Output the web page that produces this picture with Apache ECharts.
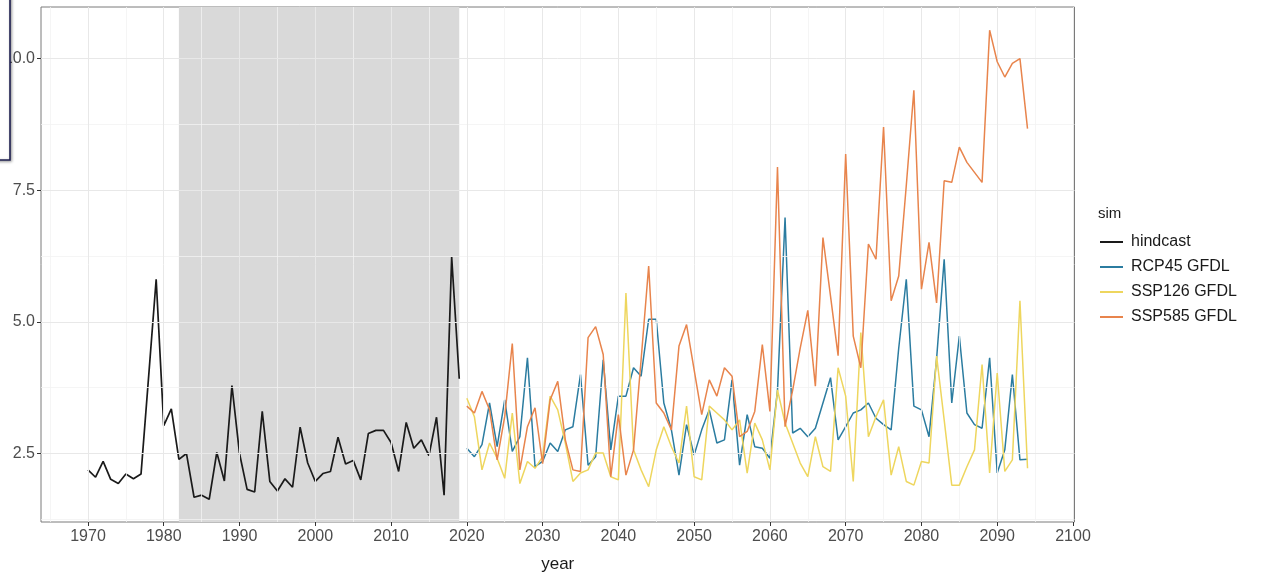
<!DOCTYPE html>
<html><head><meta charset="utf-8">
<script src="https://cdn.jsdelivr.net/npm/echarts@6/dist/echarts.min.js"></script>
<style>html,body{margin:0;padding:0;background:#fff}#c{width:1268px;height:574px}</style>
</head><body><div id="c"></div>
<script>
// ---- data ----
const hindcastStart = 1970;
const hindcast = [2.19,2.05,2.35,2.01,1.93,2.11,2.02,2.11,3.95,5.81,
  3.03,3.35,2.39,2.50,1.67,1.71,1.63,2.52,1.98,3.79,
  2.50,1.82,1.77,3.30,1.97,1.79,2.02,1.86,3.00,2.32,
  1.97,2.12,2.16,2.81,2.30,2.37,2.00,2.88,2.94,2.94,
  2.71,2.16,3.09,2.60,2.76,2.46,3.19,1.71,6.23,3.92];
const futureStart = 2020;
const rcp45 = [2.60,2.44,2.67,3.46,2.63,3.52,2.54,2.82,4.32,2.25,
  2.35,2.70,2.54,2.95,3.01,4.00,2.28,2.44,4.28,2.57,
  3.59,3.59,4.13,3.97,5.05,5.05,3.46,2.95,2.09,3.05,
  2.47,2.95,3.33,2.70,2.76,3.90,2.28,3.24,2.63,2.60,
  2.41,3.70,6.98,2.89,2.98,2.82,2.98,3.46,3.94,2.76,
  3.01,3.27,3.33,3.46,3.17,3.05,2.95,4.50,5.81,3.40,
  3.33,2.82,4.30,6.19,3.46,4.73,3.27,3.05,2.98,4.32,
  2.13,2.57,4.00,2.38,2.39];
const ssp126 = [3.55,3.20,2.19,2.70,2.41,2.03,3.27,1.93,2.35,2.22,
  2.44,3.59,3.33,2.70,1.97,2.13,2.19,2.51,2.51,2.06,
  2.00,5.55,2.57,2.19,1.87,2.57,3.01,2.63,2.32,3.40,
  2.06,2.00,3.40,3.27,3.14,2.95,3.14,2.13,3.08,2.76,
  2.19,3.71,3.08,2.70,2.32,2.06,2.82,2.25,2.16,4.13,
  3.59,1.97,4.80,2.82,3.20,3.52,2.09,2.63,1.97,1.90,
  2.35,2.32,4.35,3.14,1.90,1.90,2.25,2.57,4.19,2.13,
  4.03,2.16,2.38,5.40,2.22];
const ssp585 = [3.40,3.27,3.68,3.33,2.38,3.20,4.59,2.19,3.01,3.37,
  2.31,3.52,3.87,2.76,2.19,2.16,4.70,4.91,4.38,2.06,
  3.24,2.09,2.57,4.28,6.06,3.46,3.27,2.95,4.54,4.95,
  4.09,3.24,3.90,3.59,4.13,3.97,2.82,2.92,3.30,4.57,
  3.30,7.94,3.01,3.70,4.50,5.22,3.78,6.60,5.49,4.36,
  8.19,4.73,4.13,6.48,6.19,8.70,5.40,5.87,7.59,9.40,
  5.62,6.51,5.36,7.68,7.65,8.32,8.03,7.84,7.65,10.54,
  9.94,9.65,9.91,10.00,8.67];
const seriesNames = ['hindcast','RCP45 GFDL','SSP126 GFDL','SSP585 GFDL'];
const xTicks = [1970,1980,1990,2000,2010,2020,2030,2040,2050,2060,2070,2080,2090,2100];
const xMinor = [1965,1975,1985,1995,2005,2015,2025,2035,2045,2055,2065,2075,2085,2095];
const yTicks = [2.5,5.0,7.5,10.0];
const yMinor = [1.25,3.75,6.25,8.75];
const baselineStart = 1982, baselineEnd = 2019;

// ---- build ----
function pairs(start, vals){ return vals.map((v,i)=>[start+i, v]); }
const colors = ['#1a1a1a','#2b7ca0','#eed65e','#e8844c'];

function vline(v, c, w){ return {xAxis: v, lineStyle:{color:c, width:w, type:'solid'}}; }
function hline(v, c, w){ return {yAxis: v, lineStyle:{color:c, width:w, type:'solid'}}; }
const gridMarks = []
  .concat(xMinor.map(v=>vline(v,'#f3f3f3',0.8)))
  .concat(yMinor.map(v=>hline(v,'#f3f3f3',0.8)))
  .concat(xTicks.map(v=>vline(v,'#e8e8e8',1)))
  .concat(yTicks.map(v=>hline(v,'#e8e8e8',1)));

const chart = echarts.init(document.getElementById('c'), null, {renderer:'canvas'});
chart.setOption({
  animation:false,
  backgroundColor:'#fff',
  color: colors,
  textStyle:{fontFamily:'"Liberation Sans", Arial, sans-serif'},
  grid:{left:41, right:193.5, top:7, bottom:52, show:true, borderColor:'#7a7a7a', borderWidth:1, backgroundColor:'#fff',
    containLabel:false, outerBoundsMode:'none'},
  xAxis:{type:'value', min:1963.8, max:2100.2,
    name:'year', nameLocation:'middle', nameGap:34,
    nameTextStyle:{fontSize:17, color:'#1a1a1a'},
    axisLine:{show:false},
    axisTick:{show:true, length:4, customValues:xTicks, lineStyle:{color:'#333', width:1}},
    axisLabel:{customValues:xTicks, fontSize:16, color:'#4d4d4d', margin:7, formatter:v=>String(v)},
    splitLine:{show:false}},
  yAxis:{type:'value', min:1.2, max:10.98,
    axisLine:{show:false},
    axisTick:{show:true, length:4, customValues:yTicks, lineStyle:{color:'#333', width:1}},
    axisLabel:{customValues:yTicks, fontSize:16, color:'#4d4d4d', margin:6,
      formatter:v=>v.toFixed(1)},
    splitLine:{show:false}},
  legend:{orient:'vertical', left:1100, top:234, padding:0, itemGap:9,
    itemWidth:23, itemHeight:2, icon:'rect',
    data: seriesNames,
    textStyle:{fontSize:16, color:'#1a1a1a', lineHeight:16, padding:[0,0,0,3]}},
  graphic:[
    {type:'text', left:1098, top:206, z:10, style:{text:'sim', fontSize:15, fill:'#1a1a1a', font:'15px "Liberation Sans", Arial, sans-serif'}},
    {type:'rect', z:100, shape:{x:-10, y:-10, width:20, height:170},
      style:{fill:'#fff', stroke:'#1f2050', lineWidth:1.6, shadowBlur:3, shadowColor:'rgba(0,0,0,0.35)', shadowOffsetX:1, shadowOffsetY:1}}
  ],
  series:[
    {type:'line', name:'_band', data:[], z:1, silent:true,
      markArea:{silent:true, itemStyle:{color:'#d9d9d9'}, data:[[{xAxis:baselineStart},{xAxis:baselineEnd}]]}},
    {type:'line', name:'_grid', data:[], z:2, silent:true,
      markLine:{silent:true, symbol:['none','none'], label:{show:false}, data:gridMarks}},
    {type:'line', name:seriesNames[0], data:pairs(hindcastStart, hindcast), z:3, showSymbol:false, symbol:'none',
      lineStyle:{width:1.7, color:colors[0]}, itemStyle:{color:colors[0]}},
    {type:'line', name:seriesNames[1], data:pairs(futureStart, rcp45), z:4, showSymbol:false, symbol:'none',
      lineStyle:{width:1.5, color:colors[1]}, itemStyle:{color:colors[1]}},
    {type:'line', name:seriesNames[2], data:pairs(futureStart, ssp126), z:5, showSymbol:false, symbol:'none',
      lineStyle:{width:1.5, color:colors[2]}, itemStyle:{color:colors[2]}},
    {type:'line', name:seriesNames[3], data:pairs(futureStart, ssp585), z:6, showSymbol:false, symbol:'none',
      lineStyle:{width:1.5, color:colors[3]}, itemStyle:{color:colors[3]}}
  ]
});
</script></body></html>
